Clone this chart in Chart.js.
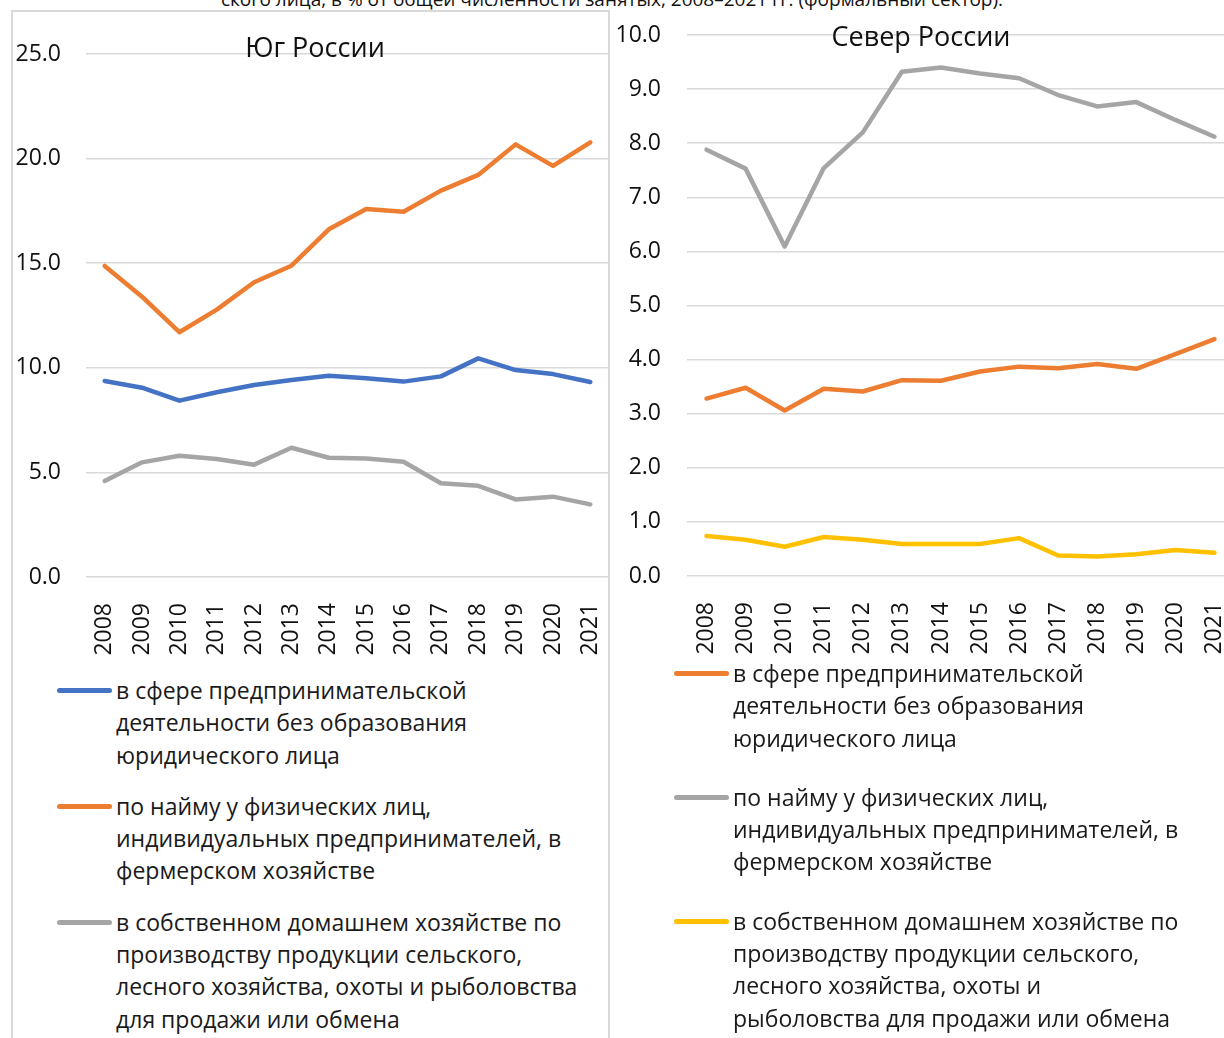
<!DOCTYPE html>
<html>
<head>
<meta charset="utf-8">
<script src="https://cdn.jsdelivr.net/npm/chart.js"></script>
<style>
  html, body { margin: 0; padding: 0; background: #fff; }
  body { width: 1224px; height: 1038px; overflow: hidden; position: relative; font-family: "Open Sans", "Noto Sans", sans-serif; color: #111; }
  canvas { position: absolute; top: 0; }
  .hline, .vline { position: absolute; background: #d9d9d9; }
  .caption { position: absolute; left: 0; width: 1224px; top: -11px; text-align: center; font-size: 19px; line-height: 20px; white-space: nowrap; }
  .ttl { position: absolute; width: 400px; text-align: center; font-size: 27px; line-height: 30px; white-space: nowrap; }
  .legend { position: absolute; font-size: 23px; line-height: 32.3px; color: #1a1a1a; }
  .legend .item { position: relative; white-space: pre; }
  .legend .swatch { position: absolute; height: 5px; border-radius: 3px; top: 14px; }
</style>
</head>
<body>
<div class="caption">ского лица, в % от общей численности занятых, 2008–2021 гг. (формальный сектор).</div>
<div class="hline" style="left:12px;top:10px;width:598px;height:2px"></div>
<div class="vline" style="left:11px;top:10px;width:2px;height:1030px"></div>

<canvas id="southChart" width="609" height="660" style="left:0"></canvas>
<canvas id="northChart" width="624" height="660" style="left:610px"></canvas>
<div class="vline" style="left:608px;top:10px;width:2px;height:1030px"></div>

<div class="ttl" style="left:115px;top:32px">Юг России</div>
<div class="ttl" style="left:721px;top:21px">Север России</div>

<div class="legend" id="southLegend" style="left:57px;top:674px;width:540px"></div>
<div class="legend" id="northLegend" style="left:674px;top:657px;width:550px"></div>

<script>
const years = ["2008", "2009", "2010", "2011", "2012", "2013", "2014", "2015", "2016", "2017", "2018", "2019", "2020", "2021"]

// Юг России
const southBusiness = [9.37, 9.05, 8.43, 8.83, 9.18, 9.42, 9.62, 9.5, 9.34, 9.59, 10.45, 9.89, 9.7, 9.32]
const southHired = [14.87, 13.4, 11.7, 12.78, 14.09, 14.88, 16.62, 17.59, 17.46, 18.47, 19.22, 20.68, 19.65, 20.78]
const southHousehold = [4.59, 5.48, 5.8, 5.64, 5.37, 6.18, 5.7, 5.66, 5.51, 4.48, 4.36, 3.71, 3.84, 3.47]
const southTicks = [0, 5, 10, 15, 20, 25]

// Север России
const northBusiness = [3.28, 3.48, 3.06, 3.46, 3.41, 3.62, 3.61, 3.78, 3.87, 3.84, 3.92, 3.83, 4.1, 4.38]
const northHired = [7.88, 7.53, 6.09, 7.54, 8.2, 9.32, 9.4, 9.29, 9.2, 8.89, 8.68, 8.76, 8.43, 8.12]
const northHousehold = [0.74, 0.67, 0.54, 0.72, 0.67, 0.59, 0.59, 0.59, 0.7, 0.38, 0.36, 0.4, 0.48, 0.43]
const northTicks = [0, 1, 2, 3, 4, 5, 6, 7, 8, 9, 10]

const southLabels = [
    "в сфере предпринимательской\nдеятельности без образования\nюридического лица",
    "по найму у физических лиц,\nиндивидуальных предпринимателей, в\nфермерском хозяйстве",
    "в собственном домашнем хозяйстве по\nпроизводству продукции сельского,\nлесного хозяйства, охоты и рыболовства\nдля продажи или обмена"
]
const northLabels = [
    "в сфере предпринимательской\nдеятельности без образования\nюридического лица",
    "по найму у физических лиц,\nиндивидуальных предпринимателей, в\nфермерском хозяйстве",
    "в собственном домашнем хозяйстве по\nпроизводству продукции сельского,\nлесного хозяйства, охоты и\nрыболовства для продажи или обмена"
]

const blue = "#4472c4"
const orange = "#ed7d31"
const gray = "#a5a5a5"
const yellow = "#ffc000"
const font = "'Open Sans', 'Noto Sans', sans-serif"

function makeSet(label, data, color) {
    return {
        label,
        data,
        borderColor: color,
        backgroundColor: color,
        borderWidth: 4.5,
        borderCapStyle: "round",
        borderJoinStyle: "round",
        pointRadius: 0,
        tension: 0
    }
}

function makeConfig(datasets, ticks, padTop, yWidth, xHeight, yPad) {
    return {
        type: "line",
        data: { labels: years, datasets },
        options: {
            responsive: false,
            animation: false,
            layout: { padding: { top: padTop, left: 0, right: 0, bottom: 0 } },
            plugins: { legend: { display: false }, title: { display: false }, tooltip: { enabled: false } },
            scales: {
                x: {
                    offset: true,
                    grid: { display: false },
                    border: { display: false },
                    ticks: { color: "#111", font: { family: font, size: 23 }, minRotation: 90, maxRotation: 90, padding: 18, autoSkip: false },
                    afterFit: (scale) => {
                        scale.height = xHeight
                        scale.paddingLeft = 0
                        scale.paddingRight = 0
                    }
                },
                y: {
                    min: ticks[0],
                    max: ticks[ticks.length - 1],
                    afterBuildTicks: (scale) => { scale.ticks = ticks.map(v => ({ value: v })) },
                    grid: { color: "#d9d9d9", lineWidth: 1.6, drawTicks: false },
                    border: { display: false },
                    ticks: { color: "#111", font: { family: font, size: 23 }, padding: yPad, callback: (v) => Number(v).toFixed(1) },
                    afterFit: (scale) => {
                        scale.width = yWidth
                        scale.paddingTop = 0
                        scale.paddingBottom = 0
                    }
                }
            }
        }
    }
}

function buildLegend(chart, el, gap) {
    chart.data.datasets.forEach((ds, i) => {
        const item = document.createElement("div")
        item.className = "item"
        item.style.paddingLeft = "59px"
        if (i > 0) item.style.marginTop = gap + "px"
        const sw = document.createElement("span")
        sw.className = "swatch"
        sw.style.left = "0px"
        sw.style.width = "55px"
        sw.style.background = ds.borderColor
        item.appendChild(sw)
        item.appendChild(document.createTextNode(ds.label))
        el.appendChild(item)
    })
}

const south = new Chart(document.querySelector("#southChart"), makeConfig([
    makeSet(southLabels[0], southBusiness, blue),
    makeSet(southLabels[1], southHired, orange),
    makeSet(southLabels[2], southHousehold, gray)
], southTicks, 54, 86, 83, 25))

const north = new Chart(document.querySelector("#northChart"), makeConfig([
    makeSet(northLabels[0], northBusiness, orange),
    makeSet(northLabels[1], northHired, gray),
    makeSet(northLabels[2], northHousehold, yellow)
], northTicks, 35, 77, 84, 26))

buildLegend(south, document.querySelector("#southLegend"), 19)
buildLegend(north, document.querySelector("#northLegend"), 27)
</script>
</body>
</html>
